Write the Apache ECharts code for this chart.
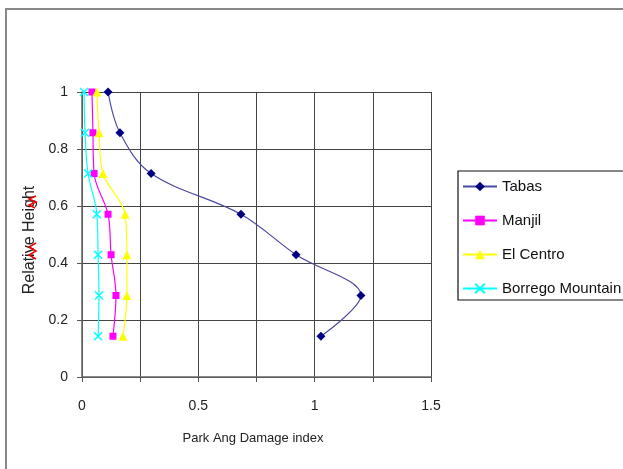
<!DOCTYPE html>
<html>
<head>
<meta charset="utf-8">
<script src="https://cdn.jsdelivr.net/npm/echarts@6/dist/echarts.min.js"></script>
<style>html,body{margin:0;padding:0;background:#fff;}#c{width:623px;height:469px;}</style>
</head>
<body>
<div id="c"></div>
<script>
var heights = [1, 0.857, 0.714, 0.571, 0.429, 0.286, 0.143];
var tabas = [0.112, 0.163, 0.297, 0.683, 0.920, 1.199, 1.027];
var manjil = [0.043, 0.047, 0.052, 0.112, 0.125, 0.146, 0.133];
var elCentro = [0.064, 0.073, 0.090, 0.185, 0.193, 0.193, 0.176];
var borrego = [0.009, 0.013, 0.026, 0.064, 0.069, 0.073, 0.069];
var seriesNames = ['Tabas', 'Manjil', 'El Centro', 'Borrego Mountain'];
var xTickLabels = ['0', '0.5', '1', '1.5'];
var yTickLabels = ['0', '0.2', '0.4', '0.6', '0.8', '1'];

function pairs(xs) { return xs.map(function (x, i) { return [x, heights[i]]; }); }

var font = 'Liberation Sans, Arial, sans-serif';
var chart = echarts.init(document.getElementById('c'), null, {renderer: 'canvas'});
chart.setOption({
  animation: false,
  backgroundColor: '#fff',
  grid: {left: 82, right: 192, top: 92, bottom: 92, containLabel: false},
  xAxis: {
    type: 'value', min: 0, max: 1.5, interval: 0.25,
    axisLine: {show: true, onZero: false, lineStyle: {color: '#666', width: 1.5}},
    axisTick: {show: true, length: 5, lineStyle: {color: '#555'}},
    axisLabel: {
      margin: 22, color: '#222', fontSize: 14, fontFamily: font,
      formatter: function (v) {
        var i = Math.round(v / 0.5);
        return Math.abs(v - i * 0.5) < 1e-6 ? xTickLabels[i] : '';
      }
    },
    splitLine: {show: true, lineStyle: {color: '#444', width: 1}}
  },
  yAxis: {
    type: 'value', min: 0, max: 1, interval: 0.2,
    axisLine: {show: true, onZero: false, lineStyle: {color: '#666', width: 1.5}},
    axisTick: {show: true, length: 5, lineStyle: {color: '#555'}},
    axisLabel: {
      margin: 14, color: '#222', fontSize: 14, fontFamily: font,
      formatter: function (v) { return yTickLabels[Math.round(v / 0.2)]; }
    },
    splitLine: {show: true, lineStyle: {color: '#444', width: 1}}
  },
  legend: {
    orient: 'vertical', left: 462, top: 179, padding: 0,
    itemWidth: 34, itemHeight: 12, itemGap: 19,
    textStyle: {fontSize: 15, fontFamily: font, color: '#111'},
    data: seriesNames
  },
  series: [
    {name: seriesNames[0], type: 'line', smooth: 0.35, data: pairs(tabas),
     symbol: 'diamond', symbolSize: 9,
     lineStyle: {color: '#4a4aa0', width: 1.2}, itemStyle: {color: '#000080'}},
    {name: seriesNames[1], type: 'line', smooth: 0.35, data: pairs(manjil),
     symbol: 'rect', symbolSize: 7,
     lineStyle: {color: '#ff00ff', width: 1.2}, itemStyle: {color: '#ff00ff'}},
    {name: seriesNames[2], type: 'line', smooth: 0.35, data: pairs(elCentro),
     symbol: 'triangle', symbolSize: 9,
     lineStyle: {color: '#ffff00', width: 1.2}, itemStyle: {color: '#ffff00'}},
    {name: seriesNames[3], type: 'line', smooth: 0.35, data: pairs(borrego),
     symbol: 'path://M0,0L10,10M10,0L0,10', symbolSize: 8,
     lineStyle: {color: '#00ffff', width: 1.2},
     itemStyle: {color: 'none', borderColor: '#00ffff', borderWidth: 1.5}}
  ],
  graphic: [
    {type: 'line', shape: {x1: 6, y1: 9, x2: 623, y2: 9}, style: {stroke: '#888', lineWidth: 2}},
    {type: 'line', shape: {x1: 6, y1: 8, x2: 6, y2: 469}, style: {stroke: '#888', lineWidth: 2}},
    {type: 'rect', shape: {x: 458, y: 171, width: 200, height: 129},
     style: {fill: 'none', stroke: '#111', lineWidth: 1.2}, z: 10},
    {type: 'text', x: 253, y: 438,
     style: {text: 'Park Ang Damage index', fontSize: 13, fontFamily: font, fill: '#222',
             align: 'center', verticalAlign: 'middle'}},
    {type: 'text', x: 30, y: 240, rotation: Math.PI / 2,
     style: {text: 'Relative Height', fontSize: 16, fontFamily: font, fill: '#222',
             align: 'center', verticalAlign: 'middle'}},
    {type: 'polyline', shape: {points: [[36, 196], [29, 199], [36, 202], [29, 205], [35, 208]]},
     style: {stroke: '#e00', lineWidth: 1.5, fill: 'none'}},
    {type: 'polyline', shape: {points: [[36, 243], [29, 247], [36, 251], [29, 255], [36, 259]]},
     style: {stroke: '#e00', lineWidth: 1.5, fill: 'none'}}
  ]
});
</script>
</body>
</html>
